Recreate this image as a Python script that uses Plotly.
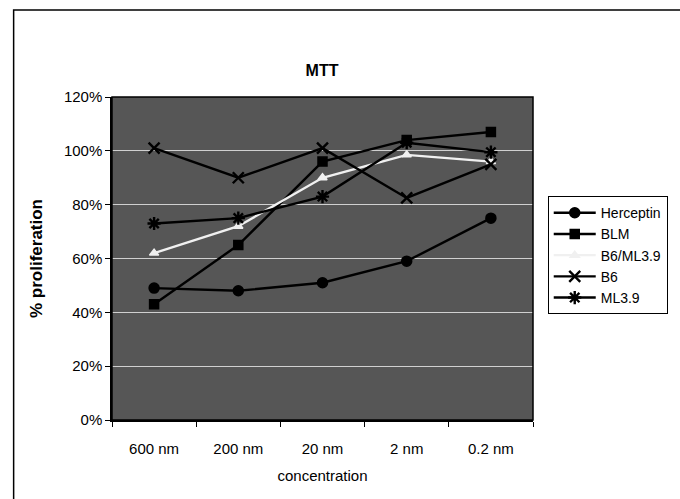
import plotly.graph_objects as go

categories = ["600 nm", "200 nm", "20 nm", "2 nm", "0.2 nm"]
herceptin = [49, 48, 51, 59, 75]
blm = [43, 65, 96, 104, 107]
b6_ml39 = [62, 72, 90, 98.5, 96]
b6 = [101, 90, 101, 82.5, 95]
ml39 = [73, 75, 83, 103, 99.5]

fig = go.Figure()

def add(name, vals, color, symbol, size, lw=1.5):
    fig.add_trace(go.Scatter(
        x=categories, y=[v / 100 for v in vals], name=name, mode="lines+markers",
        line=dict(color=color, width=2.4),
        marker=dict(symbol=symbol, size=size, color=color, line=dict(color=color, width=lw)),
    ))

add("Herceptin", herceptin, "black", "circle", 10)
add("BLM", blm, "black", "square", 9)
add("B6/ML3.9", b6_ml39, "#f0f0f0", "triangle-up", 8)
add("B6", b6, "black", "x-thin-open", 11, 2.4)
add("ML3.9", ml39, "black", "asterisk-open", 11, 2.4)

fig.update_layout(
    width=680, height=499,
    margin=dict(l=112, r=140, t=97, b=79),
    paper_bgcolor="white",
    plot_bgcolor="#565656",
    font=dict(family="Liberation Sans, Arial, sans-serif", size=15, color="black"),
    title=dict(text="<b>MTT</b>", x=322 / 680, xanchor="center", y=1 - 70 / 499, yanchor="middle",
               font=dict(size=16)),
    showlegend=True,
    legend=dict(x=1.035, y=0.693, xanchor="left", yanchor="top",
                bgcolor="white", bordercolor="black", borderwidth=1,
                font=dict(size=14), tracegroupgap=0, itemwidth=42),
    xaxis=dict(
        type="category", range=[-0.5, 4.5], tickson="boundaries",
        ticks="outside", ticklen=5, tickcolor="black",
        showline=True, linecolor="black", linewidth=1.5, mirror=False,
        showgrid=False, ticklabelstandoff=14,
        title=dict(text="concentration", font=dict(size=15), standoff=15),
        tickfont=dict(size=15),
    ),
    yaxis=dict(
        range=[0, 1.2], dtick=0.2, tickformat=".0%",
        ticks="outside", ticklen=5, tickcolor="black",
        showline=True, linecolor="black", linewidth=1.5,
        showgrid=True, gridcolor="#d0d0d0", gridwidth=1, zeroline=False,
        title=dict(text="<b>% proliferation</b>", font=dict(size=17), standoff=17),
        tickfont=dict(size=15),
    ),
    shapes=[
        dict(type="rect", xref="paper", yref="paper", x0=0, x1=1, y0=0, y1=1,
             line=dict(color="black", width=1.5), fillcolor="rgba(0,0,0,0)"),
        dict(type="path", xref="paper", yref="paper",
             path="M {a},{b} L {a},{c} L {d},{c}".format(
                 a=(12 - 112) / 428, b=(420 - 510) / 323, c=(420 - 10) / 323, d=(700 - 112) / 428),
             line=dict(color="black", width=1.5)),
    ],
)

fig.write_html("out.html")
